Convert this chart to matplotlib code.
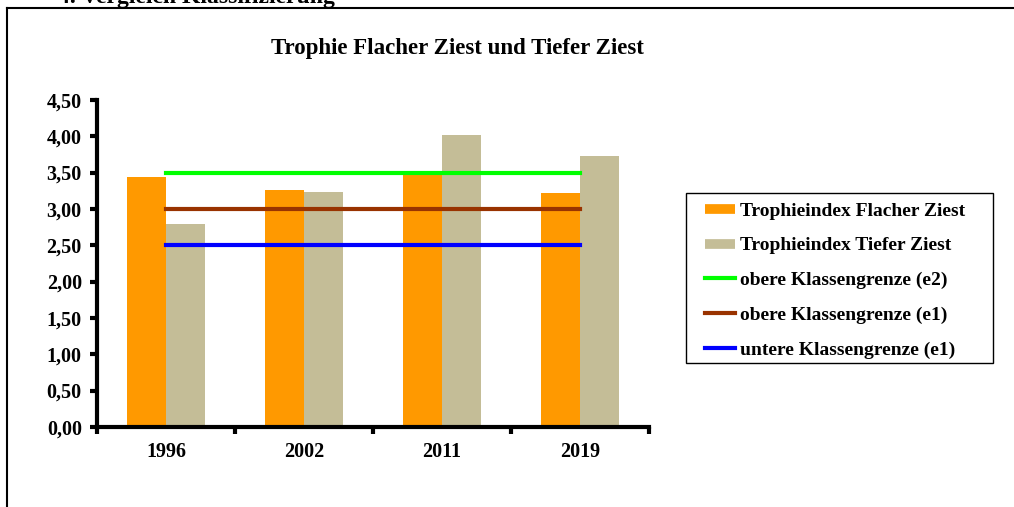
import matplotlib.pyplot as plt
import numpy as np
from matplotlib.lines import Line2D
from matplotlib.patches import Rectangle

# Daten aus dem Diagramm
jahre = ['1996', '2002', '2011', '2019']
flacher_ziest = [3.44, 3.26, 3.48, 3.22]
tiefer_ziest = [2.79, 3.23, 4.02, 3.73]
grenze_e2 = [3.5, 3.5, 3.5, 3.5]
grenze_e1_oben = [3.0, 3.0, 3.0, 3.0]
grenze_e1_unten = [2.5, 2.5, 2.5, 2.5]
y_ticks = [0.0, 0.5, 1.0, 1.5, 2.0, 2.5, 3.0, 3.5, 4.0, 4.5]

plt.rcParams['font.family'] = ['Liberation Serif', 'DejaVu Serif']
plt.rcParams['font.weight'] = 'bold'

W, H = 1014, 507
fig = plt.figure(figsize=(W / 100, H / 100), dpi=100)
ax = fig.add_axes([0.0957, 0.158, 0.5443, 0.645])

x = np.arange(len(jahre))
breite = 0.28
ax.bar(x - breite / 2, flacher_ziest, breite, color='#FF9900', zorder=2)
ax.bar(x + breite / 2, tiefer_ziest, breite, color='#C4BD97', zorder=2)
ax.plot(x, grenze_e2, color='#00FF00', lw=3, zorder=3)
ax.plot(x, grenze_e1_oben, color='#993300', lw=3, zorder=3)
ax.plot(x, grenze_e1_unten, color='#0000FF', lw=3, zorder=3)

ax.set_xlim(-0.5, len(jahre) - 0.5)
ax.set_ylim(0, 4.5)
ax.set_yticks(y_ticks)
ax.set_yticklabels([f'{v:.2f}'.replace('.', ',') for v in y_ticks])
ax.set_xticks(x)
ax.set_xticklabels(jahre)
ax.set_xticks(np.arange(-0.5, len(jahre), 1), minor=True)
ax.tick_params(axis='x', which='major', length=0, pad=11, labelsize=14.5)
ax.tick_params(axis='x', which='minor', length=5, width=3, direction='out')
ax.tick_params(axis='y', length=5, width=3, direction='out', pad=6, labelsize=14.5)

for s in ['top', 'right']:
    ax.spines[s].set_visible(False)
for s in ['left', 'bottom']:
    ax.spines[s].set_linewidth(3)

fig.text(0.4516, 0.905, 'Trophie Flacher Ziest und Tiefer Ziest', ha='center', va='center',
         fontsize=16.5, fontweight='bold')

handles = [
    Line2D([], [], color='#FF9900', lw=7, solid_capstyle='butt'),
    Line2D([], [], color='#C4BD97', lw=7, solid_capstyle='butt'),
    Line2D([], [], color='#00FF00', lw=3),
    Line2D([], [], color='#993300', lw=3),
    Line2D([], [], color='#0000FF', lw=3),
]
labels = ['Trophieindex Flacher Ziest', 'Trophieindex Tiefer Ziest',
          'obere Klassengrenze (e2)', 'obere Klassengrenze (e1)',
          'untere Klassengrenze (e1)']
fig.legend(handles, labels, loc='upper left', bbox_to_anchor=(705 / W, 1 - 202 / H),
           borderaxespad=0, frameon=False, prop={'size': 14, 'weight': 'bold'},
           handlelength=1.55, handletextpad=0.25, labelspacing=0.88, borderpad=0)
fig.add_artist(Rectangle((686 / W, 1 - 363 / H), 307 / W, 170 / H, transform=fig.transFigure,
                         facecolor='none', edgecolor='black', lw=1))

# Rahmen und abgeschnittene Überschrift
fig.add_artist(Line2D([7 / W, 1], [1 - 8 / H, 1 - 8 / H], color='black', lw=1.5))
fig.add_artist(Line2D([7 / W, 7 / W], [0, 1 - 8 / H], color='black', lw=1.5))
fig.text(335 / W, 1 - 2.5 / H, '4. Vergleich Klassifizierung', ha='right', va='baseline',
         fontsize=17, fontweight='bold')

fig.savefig('out.png', dpi=100)
